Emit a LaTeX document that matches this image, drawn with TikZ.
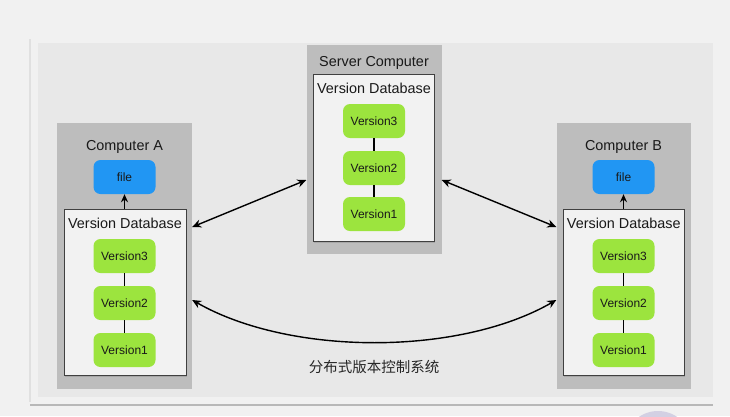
\documentclass[tikz,border=0pt]{standalone}
\usepackage{fontspec}
\setmainfont{Liberation Sans}
\newfontfamily\cjkfont{Noto Sans CJK SC}
\usetikzlibrary{positioning, arrows.meta, shadows}

\definecolor{pageGray}{HTML}{F1F1F1}
\definecolor{panelGray}{HTML}{E8E8E8}
\definecolor{boxGray}{HTML}{BDBDBD}
\definecolor{dbWhite}{HTML}{F2F2F2}
\definecolor{versionGreen}{HTML}{9CE43E}
\definecolor{fileBlue}{HTML}{2196F3}
\definecolor{blobPurple}{HTML}{D3D0E3}

\begin{document}
\begin{tikzpicture}[x=1pt, y=-1pt,
		computerbox/.style = {fill=boxGray, inner sep=0pt},
		databasebox/.style = {fill=dbWhite, draw=black!75, line width=0.9pt, inner sep=0pt,
			drop shadow={shadow xshift=1pt, shadow yshift=-1.5pt, opacity=0.35}},
		versionbox/.style = {fill=versionGreen, rounded corners=7pt, minimum width=62pt, minimum height=34pt,
			inner sep=0pt, font=\fontsize{12}{14}\selectfont, text=black!90},
		filebox/.style = {versionbox, fill=fileBlue},
		heading/.style = {font=\fontsize{14.4}{17}\selectfont, text=black!90},
		uplink/.style = {line width=1.5pt, -{Stealth[length=8pt, width=7pt]}},
		link/.style = {line width=1.4pt, {Stealth[length=9pt, width=8pt]}-{Stealth[length=9pt, width=8pt]}}]

	\useasboundingbox (0,0) rectangle (730,416);

	% background
	\fill[pageGray] (0,0) rectangle (730,416);
	\fill[panelGray] (38,43) rectangle (713,397);
	\draw[black!12, line width=1.5pt] (30,39) -- (30,402);
	\draw[black!28, line width=1.5pt] (30,405) -- (713,405);
	\begin{scope}
		\clip (0,0) rectangle (730,416);
		\fill[blobPurple] (658,445) circle (34);
	\end{scope}

	% Computer A
	\node[computerbox, minimum width=135pt, minimum height=266pt] (compA) at (124.5,256) {};
	\node[heading] (compA-title) at (124.5,147) {Computer A};
	\node[filebox] (compA-file) at (124.5,177) {file};
	\node[databasebox, minimum width=122pt, minimum height=166pt] (compA-db) at (125,292) {};
	\node[heading] (compA-dbtitle) at (125,223) {Version Database};
	\foreach \n/\y in {3/256, 2/303, 1/350}
		\node[versionbox] (compA-v\n) at (124.5,\y) {Version\n};
	\draw[line width=1.3pt] (compA-v3) -- (compA-v2) -- (compA-v1);
	\draw[uplink] (compA-db.north -| compA-file.south) -- (compA-file.south);

	% Server Computer
	\node[computerbox, minimum width=135pt, minimum height=209pt] (server) at (374,149.5) {};
	\node[heading] (server-title) at (374,63) {Server Computer};
	\node[databasebox, minimum width=121pt, minimum height=167pt] (server-db) at (373.7,157.5) {};
	\node[heading] (server-dbtitle) at (374,88) {Version Database};
	\foreach \n/\y in {3/121, 2/168, 1/214}
		\node[versionbox] (server-v\n) at (374,\y) {Version\n};
	\draw[line width=1.3pt] (server-v3) -- (server-v2) -- (server-v1);

	% Computer B
	\node[computerbox, minimum width=134pt, minimum height=266pt] (compB) at (623.5,256) {};
	\node[heading] (compB-title) at (623.5,147) {Computer B};
	\node[filebox] (compB-file) at (623.5,177) {file};
	\node[databasebox, minimum width=121pt, minimum height=166pt] (compB-db) at (623.8,292) {};
	\node[heading] (compB-dbtitle) at (623.8,223) {Version Database};
	\foreach \n/\y in {3/256, 2/303, 1/350}
		\node[versionbox] (compB-v\n) at (623.5,\y) {Version\n};
	\draw[line width=1.3pt] (compB-v3) -- (compB-v2) -- (compB-v1);
	\draw[uplink] (compB-db.north -| compB-file.south) -- (compB-file.south);

	% links
	\draw[link] ([yshift=29pt]compA.east) -- ([yshift=-30.5pt]server.west);
	\draw[link] ([yshift=-30.5pt]server.east) -- ([yshift=29pt]compB.west);
	\draw[link] ([yshift=-44pt]compA.east) .. controls (290,356) and (459,356) .. ([yshift=-44pt]compB.west);

	\node[font=\fontsize{14.5}{17}\selectfont, text=black!85] (caption) at (374,367) {\cjkfont 分布式版本控制系统};

\end{tikzpicture}
\end{document}
